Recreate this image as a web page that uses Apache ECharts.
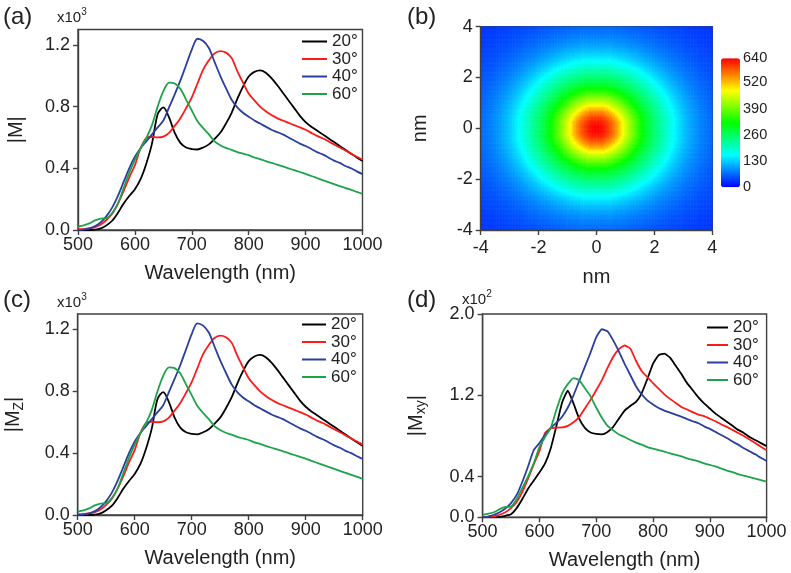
<!DOCTYPE html>
<html><head><meta charset="utf-8">
<script src="https://cdn.jsdelivr.net/npm/echarts@6/dist/echarts.min.js"></script>
<style>html,body{margin:0;padding:0;background:#fff}#c{width:791px;height:573px}</style>
</head><body><div id="c"></div>
<script>
// ---------- data ----------
const wavelength = [500,510,520,530,540,550,560,570,580,590,600,610,620,630,640,650,660,670,680,690,700,710,720,730,740,750,760,770,780,790,800,810,820,830,840,850,860,870,880,890,900,910,920,930,940,950,960,970,980,990,1000];
const seriesNames = ['20°','30°','40°','60°'];
const seriesColors = ['#000000','#ff1a1a','#2a3f9f','#1fa34a'];

// |M| (x10^3) — panel (a); |Mz| (panel c) is read as the same curves
const m20 = [0,0,0,0.002,0.01,0.03,0.06,0.11,0.17,0.22,0.265,0.33,0.43,0.56,0.75,0.795,0.73,0.63,0.565,0.535,0.525,0.522,0.535,0.555,0.59,0.63,0.69,0.76,0.85,0.93,0.995,1.025,1.035,1.02,0.985,0.94,0.89,0.84,0.79,0.74,0.70,0.67,0.645,0.62,0.595,0.57,0.545,0.52,0.495,0.47,0.447];
const m30 = [0.005,0.006,0.01,0.018,0.035,0.065,0.105,0.17,0.25,0.34,0.42,0.53,0.595,0.603,0.60,0.605,0.63,0.675,0.725,0.79,0.86,0.95,1.04,1.10,1.145,1.16,1.15,1.115,1.03,0.955,0.885,0.84,0.80,0.77,0.745,0.725,0.71,0.695,0.68,0.665,0.65,0.63,0.61,0.595,0.575,0.555,0.535,0.515,0.495,0.475,0.455];
const m40 = [0,0.003,0.01,0.025,0.05,0.09,0.145,0.22,0.31,0.40,0.475,0.53,0.575,0.62,0.665,0.71,0.795,0.88,0.97,1.07,1.17,1.24,1.225,1.18,1.09,1.0,0.92,0.845,0.795,0.76,0.735,0.71,0.69,0.67,0.65,0.635,0.62,0.60,0.58,0.56,0.545,0.525,0.505,0.49,0.47,0.45,0.435,0.415,0.40,0.38,0.362];
const m60 = [0.022,0.03,0.043,0.062,0.074,0.077,0.11,0.17,0.27,0.37,0.455,0.53,0.595,0.68,0.80,0.90,0.955,0.95,0.915,0.845,0.775,0.705,0.66,0.62,0.575,0.55,0.532,0.52,0.505,0.495,0.485,0.47,0.46,0.447,0.435,0.424,0.412,0.40,0.388,0.376,0.364,0.35,0.337,0.324,0.311,0.298,0.285,0.272,0.26,0.247,0.234];
const mz20 = m20, mz30 = m30, mz40 = m40, mz60 = m60;

// |Mxy| (x10^2) — panel (d)
const mxy20 = [0,0,0,0.005,0.015,0.03,0.09,0.18,0.28,0.36,0.44,0.53,0.68,0.90,1.13,1.245,1.12,0.97,0.88,0.835,0.82,0.816,0.84,0.89,0.97,1.05,1.095,1.135,1.22,1.36,1.51,1.595,1.61,1.57,1.49,1.41,1.32,1.25,1.18,1.12,1.07,1.02,0.98,0.94,0.90,0.86,0.83,0.79,0.76,0.73,0.70];
const mxy30 = [0,0.005,0.01,0.025,0.05,0.09,0.15,0.25,0.38,0.52,0.65,0.83,0.875,0.882,0.885,0.90,0.935,0.985,1.07,1.155,1.25,1.35,1.47,1.58,1.655,1.69,1.66,1.54,1.44,1.38,1.32,1.265,1.21,1.165,1.125,1.085,1.06,1.035,1.01,0.995,0.97,0.945,0.915,0.89,0.86,0.83,0.80,0.765,0.73,0.695,0.66];
const mxy40 = [0,0.01,0.025,0.05,0.085,0.14,0.22,0.35,0.50,0.66,0.73,0.81,0.88,0.93,0.99,1.08,1.20,1.34,1.48,1.62,1.77,1.85,1.83,1.74,1.63,1.51,1.40,1.29,1.21,1.15,1.11,1.075,1.05,1.03,1.01,0.99,0.965,0.945,0.925,0.895,0.87,0.84,0.81,0.78,0.745,0.715,0.68,0.65,0.62,0.585,0.554];
const mxy60 = [0.023,0.035,0.05,0.08,0.102,0.105,0.18,0.29,0.40,0.53,0.69,0.79,0.88,1.06,1.22,1.31,1.37,1.35,1.27,1.19,1.08,0.98,0.90,0.855,0.815,0.79,0.76,0.735,0.715,0.69,0.675,0.66,0.645,0.63,0.615,0.60,0.58,0.565,0.55,0.53,0.515,0.50,0.48,0.46,0.445,0.425,0.41,0.395,0.38,0.365,0.35];

// tick labels
const mTicks = [0, 0.4, 0.8, 1.2];
const mxyTicks = [0, 0.4, 1.2, 2.0];
const fieldTicks = [-4, -2, 0, 2, 4];
const colorbarTicks = [0, 130, 260, 390, 520, 640];

// panel (b): field magnitude vs distance from the centre (nm), read every 0.05 nm
const radialStep = 0.05;
const radialProfile = [640,640,638,635,632,627,622,615,608,600,591,581,570,559,547,534,520,505,490,476,
  463,450,437,424,412,400,388,376,364,353,342,331,321,311,302,293,285,277,269,261,
  254,247,240,233,226,219,213,206,199,192,186,179,173,167,161,155,149,143,138,133,
  128,123,119,115,111,107,103,99,96,93,90,87,84,81,79,76,74,72,70,68,
  66,64,62,60,59,57,56,54,53,51,50,49,48,47,46,45,44,43,42,41,
  40,39,38,37.5,37,36.5,36,35.5,35,34.5,34,33.5,33,32.5,32];
const fieldMax = 640;
const jetColors = ['#0000ff','#00ffff','#00ff00','#ffff00','#ff0000'];

// ---------- build ----------
const cellCount = 160, cellSize = 0.05;
const fieldCenters = [];
for (let i = 0; i < cellCount; i++) fieldCenters.push(+(-4 + cellSize / 2 + i * cellSize).toFixed(3));
const heatData = [];
fieldCenters.forEach((y, j) => fieldCenters.forEach((x, i) => {
  const r = Math.sqrt(x * x + y * y);
  const k = Math.min(radialProfile.length - 1, Math.round(r / radialStep));
  heatData.push([i, j, radialProfile[k]]);
}));

const FONT = "'Liberation Sans', Arial, sans-serif";
const TXT = '#222';
const AX = '#404040';
const axisBase = {
  axisLine: { show: true, onZero: false, lineStyle: { color: AX, width: 1.4 } },
  axisTick: { show: true, inside: false, length: 5, lineStyle: { color: AX, width: 1.4 } },
  splitLine: { show: false },
};
function wlAxis(grid) {
  return Object.assign({}, axisBase, {
    type: 'value', gridIndex: grid, min: 500, max: 1000, interval: 100,
    name: 'Wavelength (nm)', nameLocation: 'middle', nameGap: 33,
    nameTextStyle: { fontSize: 20, color: TXT, fontFamily: FONT },
    axisLabel: { fontSize: 18, color: TXT, margin: 6, fontFamily: FONT, formatter: v => String(v) }
  });
}
function magAxis(grid, max, ticks, name, rich) {
  return Object.assign({}, axisBase, {
    type: 'value', gridIndex: grid, min: 0, max: max,
    axisTick: Object.assign({}, axisBase.axisTick, { customValues: ticks }),
    axisLabel: { fontSize: 18, color: TXT, margin: 8, fontFamily: FONT, customValues: ticks, formatter: v => v.toFixed(1) },
    name: name, nameLocation: 'middle', nameGap: 52,
    nameTextStyle: { fontSize: 20, color: TXT, fontFamily: FONT, rich: rich }
  });
}
const subRich = {
  m: { fontSize: 20, color: TXT, fontFamily: FONT, lineHeight: 24, verticalAlign: 'middle' },
  s: { fontSize: 14, color: TXT, fontFamily: FONT, lineHeight: 16, verticalAlign: 'bottom' }
};
function fieldAxis(grid) {
  return Object.assign({}, axisBase, {
    type: 'value', gridIndex: grid, min: -4, max: 4, z: 10,
    axisTick: Object.assign({}, axisBase.axisTick, { customValues: fieldTicks }),
    axisLabel: { fontSize: 18, color: TXT, margin: 8, fontFamily: FONT, customValues: fieldTicks },
    name: 'nm', nameLocation: 'middle',
    nameTextStyle: { fontSize: 20, color: TXT, fontFamily: FONT }
  });
}

function lineSeries(name, vals, color, idx, smooth) {
  return {
    type: 'line', name: name, xAxisIndex: idx, yAxisIndex: idx,
    data: wavelength.map((w, i) => [w, vals[i]]),
    showSymbol: false, symbol: 'none', smooth: smooth,
    lineStyle: { width: 1.8, color: color }, itemStyle: { color: color },
    emphasis: { disabled: true }, silent: true, animation: false, z: 3
  };
}
function legendFor(left, top, w) {
  return {
    orient: 'vertical', left: left, top: top, padding: 0,
    itemWidth: w, itemHeight: 2, itemGap: 0.5, icon: 'rect',
    data: seriesNames.slice(), selectedMode: false,
    textStyle: { fontSize: 17, color: TXT, fontFamily: FONT, lineHeight: 17 }
  };
}
function letter(t, left, top) {
  return { text: t, left: left, top: top, padding: 0,
    textStyle: { fontSize: 24, fontWeight: 'normal', color: TXT, fontFamily: FONT } };
}
function expo(p, left, top) {
  return { text: '{m|x10}{s|' + p + '}', left: left, top: top, padding: 0,
    textStyle: { fontWeight: 'normal', rich: {
      m: { fontSize: 15, fontWeight: 'normal', color: TXT, fontFamily: FONT, lineHeight: 18, verticalAlign: 'bottom' },
      s: { fontSize: 10, fontWeight: 'normal', color: TXT, fontFamily: FONT, lineHeight: 18, verticalAlign: 'top' } } } };
}

const series = [];
[m20, m30, m40, m60].forEach((v, i) => series.push(lineSeries(seriesNames[i], v, seriesColors[i], 0, 0.3)));
[mz20, mz30, mz40, mz60].forEach((v, i) => series.push(lineSeries(seriesNames[i], v, seriesColors[i], 3, 0.3)));
[mxy20, mxy30, mxy40, mxy60].forEach((v, i) => series.push(lineSeries(seriesNames[i], v, seriesColors[i], 4, 0.15)));
const heatIndex = series.length;
series.push({
  type: 'heatmap', xAxisIndex: 2, yAxisIndex: 2, data: heatData,
  progressive: 0, progressiveThreshold: 1e7, silent: true, animation: false,
  itemStyle: { borderWidth: 0 }, emphasis: { disabled: true }
});

const gridBorder = { show: true, borderColor: AX, borderWidth: 1.4, backgroundColor: 'transparent' };
const option = {
  animation: false,
  textStyle: { fontFamily: FONT },
  title: [
    letter('(a)', 3, 5), letter('(b)', 407, 5), letter('(c)', 3, 288), letter('(d)', 407, 288),
    expo(3, 57, 7), expo(3, 57, 292), expo(2, 462, 289)
  ],
  legend: [legendFor(302, 33, 25), legendFor(302, 316, 24), legendFor(707, 319, 21)],
  grid: [
    Object.assign({ left: 78, top: 29.5, width: 284.5, height: 200.5 }, gridBorder),
    Object.assign({ left: 480.7, top: 26.7, width: 231.6, height: 203.3 }, gridBorder),
    Object.assign({ left: 77.7, top: 314, width: 285, height: 201 }, gridBorder),
    Object.assign({ left: 482.6, top: 314, width: 284, height: 203.3 }, gridBorder),
    { left: 721, top: 58.3, width: 19, height: 129, show: false }
  ],
  xAxis: [
    wlAxis(0),
    Object.assign(fieldAxis(1), { nameGap: 37, axisLabel: { fontSize: 18, color: TXT, margin: 9, fontFamily: FONT, customValues: fieldTicks } }),
    { type: 'category', gridIndex: 1, data: fieldCenters, show: false },
    wlAxis(2),
    wlAxis(3),
    { type: 'value', gridIndex: 4, min: 0, max: 1, show: false }
  ],
  yAxis: [
    magAxis(0, 1.3, mTicks, '|M|', null),
    Object.assign(fieldAxis(1), { nameGap: 50 }),
    { type: 'category', gridIndex: 1, data: fieldCenters, show: false },
    magAxis(2, 1.3, mTicks, '{m||M}{s|Z}{m||}', subRich),
    Object.assign(magAxis(3, 2.0, mxyTicks, '{m||M}{s|xy}{m||}', subRich), { nameGap: 54 }),
    { type: 'value', gridIndex: 4, min: 0, max: fieldMax, position: 'right',
      axisLine: { show: false }, axisTick: { show: false }, splitLine: { show: false },
      axisLabel: { fontSize: 14.5, color: TXT, margin: 3, fontFamily: FONT, customValues: colorbarTicks } }
  ],
  visualMap: [{
    type: 'continuous', seriesIndex: heatIndex, min: 0, max: fieldMax,
    calculable: false, hoverLink: false, realtime: false,
    left: 721, top: 58.3, itemWidth: 19, itemHeight: 129, padding: 0,
    text: null, showLabel: false,
    inRange: { color: jetColors }
  }],
  series: series
};
const chart = echarts.init(document.getElementById('c'), null, { renderer: 'canvas' });
chart.setOption(option);
</script>
</body></html>
